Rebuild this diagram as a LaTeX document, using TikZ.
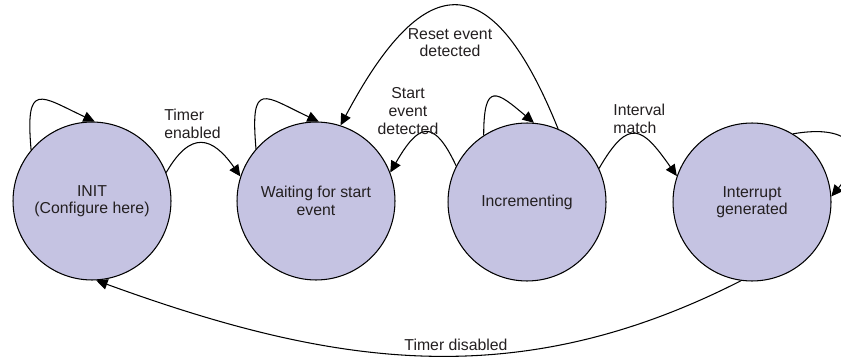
\documentclass[tikz,border=0pt]{standalone}
\usepackage{fontspec}
\setmainfont{Liberation Sans}
\usetikzlibrary{arrows.meta, positioning}
\definecolor{statefill}{RGB}{197,195,226}
\definecolor{inkgray}{RGB}{35,31,32}

\begin{document}
\begin{tikzpicture}[x=0.02cm, y=0.02cm, >={Triangle[length=6.5pt, width=6pt]},
  every node/.style={font=\fontsize{9}{10}\selectfont, text=inkgray},
  state/.style={circle, draw, line width=0.6pt, fill=statefill,
    minimum size=3.16cm, inner sep=0pt, align=center},
  trans/.style={->, line width=0.6pt},
  lbl/.style={inner sep=0pt}]
  \useasboundingbox (0,0) rectangle (841,362);

  % states
  \node[state] (init) at (92,161) {INIT\\(Configure here)};
  \node[state] (wait) at (316,161) {Waiting for start\\event};
  \node[state] (inc)  at (527,160) {Incrementing};
  \node[state] (intr) at (752,160) {Interrupt\\generated};

  % self loops
  \draw[trans] (init.140) .. controls +(95:70) and +(155:60) .. (init.88);
  \draw[trans] (wait.139) .. controls +(95:70) and +(155:60) .. (wait.88);
  \draw[trans] (inc.123) .. controls +(90:55) and +(140:48) .. (inc.85);
  \draw[trans] (intr.59) .. controls +(10:60) and +(50:60) .. (intr.4);

  % transitions between states
  \draw[trans] (init.21) .. controls +(60:49) and +(125:49) .. (wait.162);
  \draw[trans] (inc.153) .. controls +(115:55) and +(60:55) .. (wait.21);
  \draw[trans] (inc.67) .. controls +(112:174) and +(62:183) .. (wait.72);
  \draw[trans] (inc.25) .. controls +(60:60) and +(125:60) .. (intr.161);
  \draw[trans] (intr.262) to[out=207, in=-20] (init.273);

  % labels
  \node[lbl, anchor=west, align=left] (enabledlbl) at (164,238) {Timer\\enabled};
  \node[lbl, align=center] (startlbl) at (408,251) {Start\\event\\detected};
  \node[lbl, align=center] (resetlbl) at (450,319.5) {Reset event\\detected};
  \node[lbl, anchor=west, align=left] (matchlbl) at (613,243) {Interval\\match};
  \node[lbl] (disabledlbl) at (456,17) {Timer disabled};
\end{tikzpicture}
\end{document}
